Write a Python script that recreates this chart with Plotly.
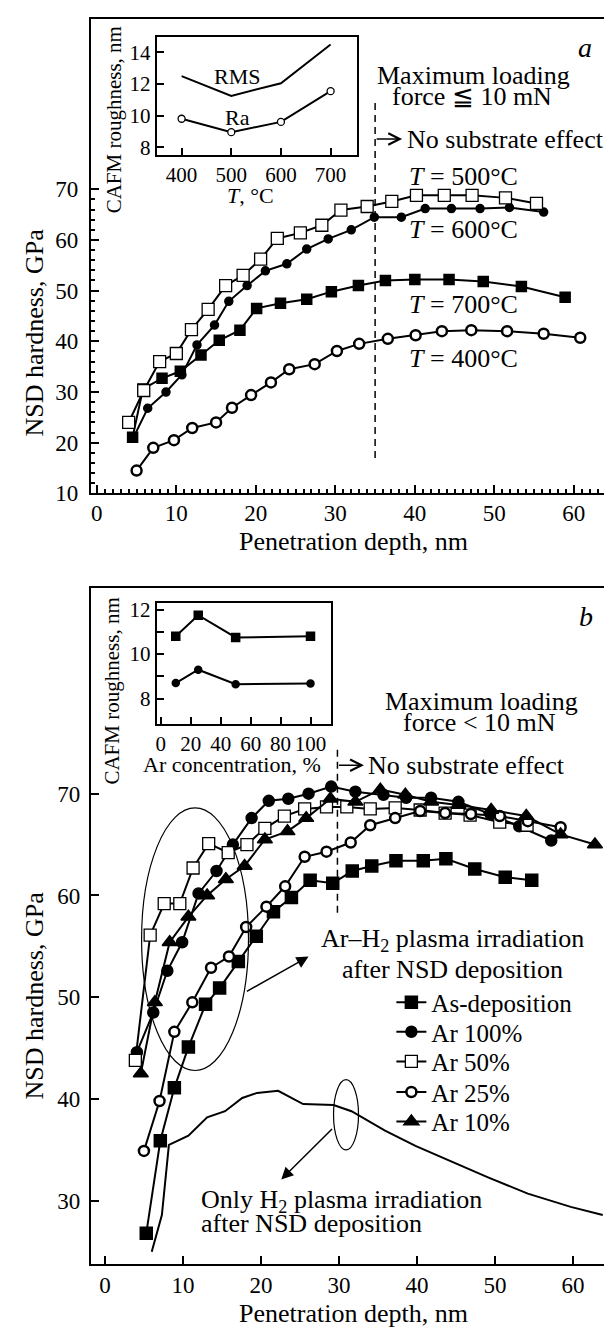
import plotly.graph_objects as go

# ---- panel a: NSD hardness vs penetration depth, by deposition temperature
x_500 = [4.0, 5.9, 7.9, 10.0, 11.9, 14.0, 16.2, 18.4, 20.6, 22.7, 25.6, 28.3, 30.7, 34.0, 37.1, 40.2, 43.7, 47.2, 51.4, 55.3]
y_500 = [24.0, 30.3, 36.0, 37.6, 42.3, 46.3, 51.0, 53.0, 56.2, 60.3, 61.4, 62.9, 65.9, 66.6, 67.6, 68.8, 68.8, 68.8, 68.3, 67.2]
x_600 = [4.6, 6.4, 8.7, 10.7, 12.6, 14.8, 16.6, 18.9, 21.2, 23.9, 26.4, 29.1, 32.0, 34.9, 38.3, 41.3, 44.6, 48.2, 51.9, 56.2]
y_600 = [21.0, 26.8, 30.0, 33.4, 39.3, 43.2, 47.9, 51.0, 53.9, 55.3, 58.2, 60.2, 62.0, 64.5, 64.5, 66.2, 66.2, 66.2, 66.4, 65.5]
x_700 = [4.5, 5.8, 8.2, 10.5, 13.1, 15.4, 18.0, 20.1, 23.1, 26.4, 29.5, 32.9, 36.3, 40.0, 44.3, 48.6, 53.4, 58.9]
y_700 = [21.1, 30.6, 32.7, 34.1, 37.3, 40.2, 42.2, 46.5, 47.5, 48.3, 49.8, 51.0, 52.0, 52.2, 52.2, 51.8, 50.8, 48.7]
x_400 = [5.0, 7.1, 9.7, 12.0, 15.0, 17.0, 19.4, 21.9, 24.2, 27.4, 30.2, 33.0, 36.6, 40.1, 43.4, 47.1, 51.6, 56.2, 60.8]
y_400 = [14.5, 19.0, 20.5, 22.9, 24.0, 26.9, 29.4, 31.9, 34.5, 35.5, 38.1, 39.5, 40.5, 41.2, 42.0, 42.2, 42.0, 41.5, 40.7]

# inset a: roughness vs temperature
t_inset = [400, 500, 600, 700]
rms_a = [12.5, 11.25, 12.05, 14.5]
ra_a = [9.8, 8.95, 9.6, 11.55]

# ---- panel b: hardness after plasma treatment
x_asdep = [5.3, 7.1, 8.9, 10.7, 12.9, 14.7, 17.1, 19.4, 21.6, 23.9, 26.3, 29.2, 31.7, 34.2, 37.3, 40.8, 43.7, 47.4, 51.3, 54.7]
y_asdep = [26.8, 35.9, 41.1, 45.1, 49.3, 50.9, 53.5, 56.0, 58.4, 59.8, 61.5, 61.2, 62.4, 62.9, 63.4, 63.4, 63.6, 62.6, 61.8, 61.5]
x_ar100 = [4.1, 6.2, 8.0, 9.9, 12.0, 14.3, 16.4, 18.8, 21.0, 23.5, 26.1, 29.0, 32.1, 35.7, 38.6, 41.8, 45.3, 49.4, 53.1, 57.2]
y_ar100 = [44.6, 48.5, 52.6, 55.4, 60.2, 62.4, 65.0, 67.6, 69.3, 69.5, 70.0, 70.7, 70.2, 69.9, 69.6, 69.6, 69.2, 68.0, 66.8, 65.4]
x_ar50 = [3.9, 5.8, 7.6, 9.6, 11.3, 13.3, 15.8, 18.2, 20.5, 23.0, 25.6, 28.4, 31.0, 34.0, 37.2, 40.4, 43.6, 46.8, 50.6, 54.1]
y_ar50 = [43.8, 56.1, 59.2, 59.2, 62.7, 65.1, 64.2, 65.0, 66.6, 67.8, 68.5, 68.7, 68.7, 68.5, 68.6, 68.4, 68.1, 67.9, 67.2, 66.9]
x_ar25 = [5.0, 7.0, 8.9, 11.2, 13.6, 15.9, 18.1, 20.7, 23.1, 25.6, 28.4, 31.5, 34.0, 37.2, 40.4, 43.6, 46.9, 50.6, 54.2, 58.4]
y_ar25 = [34.9, 39.8, 46.6, 49.5, 52.9, 54.0, 56.9, 58.9, 60.9, 63.8, 64.3, 65.2, 66.9, 67.6, 68.3, 68.1, 68.0, 67.8, 67.3, 66.7]
x_ar10 = [4.6, 6.4, 8.3, 10.7, 13.1, 15.5, 17.9, 20.5, 23.4, 25.8, 28.9, 32.1, 35.3, 38.5, 41.8, 45.3, 49.5, 54.0, 58.4, 62.8]
y_ar10 = [42.5, 49.5, 55.4, 57.9, 60.0, 61.6, 62.9, 65.5, 66.3, 67.6, 69.5, 69.2, 70.4, 69.9, 69.2, 68.9, 68.4, 67.8, 66.0, 65.0]
x_h2 = [6.0, 7.3, 8.2, 10.7, 13.1, 15.4, 17.6, 19.5, 22.2, 25.4, 29.3, 31.6, 35.9, 39.8, 44.0, 49.1, 54.2, 59.7, 63.8]
y_h2 = [25.0, 28.6, 35.5, 36.4, 38.2, 38.8, 40.1, 40.6, 40.8, 39.5, 39.4, 38.8, 36.9, 35.4, 34.0, 32.3, 30.7, 29.4, 28.6]

# inset b: roughness vs Ar concentration
ar_conc = [10, 25, 50, 100]
rough_sq = [10.8, 11.75, 10.75, 10.8]
rough_ci = [8.7, 9.3, 8.65, 8.68]

FONT = "Liberation Serif, Times New Roman, serif"
W, H = 612, 1332


def px_x(p):
    return p / W


def px_y(p):
    return 1 - p / H


fig = go.Figure()


def add(x, y, xa, ya, symbol, size, fill="black", lw=1.5, name=None, legend=None):
    fig.add_trace(go.Scatter(
        x=x, y=y, xaxis=xa, yaxis=ya, mode="lines+markers", name=name,
        showlegend=legend is not None, legend=legend or "legend",
        line=dict(color="black", width=2),
        marker=dict(symbol=symbol, size=size, color=fill, line=dict(color="black", width=lw)),
    ))


# panel a
add(x_400, y_400, "x", "y", "circle", 10, fill="white", lw=2.5)
add(x_700, y_700, "x", "y", "square", 10)
add(x_600, y_600, "x", "y", "circle", 8)
add(x_500, y_500, "x", "y", "square", 12, fill="white", lw=1.3)

# inset a
fig.add_trace(go.Scatter(x=t_inset, y=rms_a, xaxis="x3", yaxis="y3", mode="lines",
                         line=dict(color="black", width=2), showlegend=False))
add(t_inset, ra_a, "x3", "y3", "circle", 7, fill="white", lw=1.3)

# panel b
fig.add_trace(go.Scatter(x=x_h2, y=y_h2, xaxis="x2", yaxis="y2", mode="lines",
                         line=dict(color="black", width=2), showlegend=False))
add(x_asdep, y_asdep, "x2", "y2", "square", 12, name="As-deposition", legend="legend")
add(x_ar100, y_ar100, "x2", "y2", "circle", 11, name="Ar 100%", legend="legend2")
add(x_ar50, y_ar50, "x2", "y2", "square", 12, fill="white", lw=1.3, name="Ar 50%", legend="legend3")
add(x_ar25, y_ar25, "x2", "y2", "circle", 10, fill="white", lw=2.5, name="Ar 25%", legend="legend4")
add(x_ar10, y_ar10, "x2", "y2", "triangle-up", 13, name="Ar 10%", legend="legend5")

# inset b
add(ar_conc, rough_sq, "x4", "y4", "square", 8)
add(ar_conc, rough_ci, "x4", "y4", "circle", 7)

axis_common = dict(showline=True, linecolor="black", linewidth=2, mirror=True, ticks="inside",
                   tickcolor="black", tickwidth=1.5, showgrid=False, zeroline=False,
                   tickfont=dict(family=FONT, size=23, color="black"))
inset_font = dict(family=FONT, size=21, color="black")

fig.update_layout(
    width=W, height=H, margin=dict(l=0, r=0, t=0, b=0),
    paper_bgcolor="white", plot_bgcolor="white",
    font=dict(family=FONT, color="black"),
    xaxis=dict(axis_common, domain=[px_x(82), px_x(608)], range=[-0.75, 65.3], anchor="y",
               tickvals=[0, 10, 20, 30, 40, 50, 60], ticklen=8, ticklabelstandoff=-2,
               minor=dict(tickvals=list(range(0, 66)), ticklen=4, ticks="inside", tickcolor="black")),
    yaxis=dict(axis_common, domain=[px_y(487), px_y(6)], range=[10, 103.6], anchor="x",
               tickvals=[10, 20, 30, 40, 50, 60, 70], ticklen=8, ticklabelstandoff=6,
               minor=dict(tickvals=list(range(10, 71, 2)), ticklen=4, ticks="inside", tickcolor="black")),
    xaxis2=dict(axis_common, domain=[px_x(82), px_x(608)], range=[-1.8, 65.5], anchor="y2",
                tickvals=[0, 10, 20, 30, 40, 50, 60], ticklen=8),
    yaxis2=dict(axis_common, domain=[px_y(1268), px_y(583)], range=[23.8, 90.2], anchor="x2",
                tickvals=[30, 40, 50, 60, 70], ticklen=8, ticklabelstandoff=4),
    xaxis3=dict(axis_common, domain=[px_x(148), px_x(349)], range=[350, 754], anchor="y3",
                tickvals=t_inset, ticklen=7, tickfont=inset_font),
    yaxis3=dict(axis_common, domain=[px_y(144), px_y(24)], range=[7.5, 15], anchor="x3",
                tickvals=[8, 10, 12, 14], ticklen=7, tickfont=inset_font),
    xaxis4=dict(axis_common, domain=[px_x(148), px_x(323)], range=[-2.7, 114], anchor="y4",
                tickvals=[0, 20, 40, 60, 80, 100], ticklen=7, tickfont=inset_font),
    yaxis4=dict(axis_common, domain=[px_y(721), px_y(598)], range=[6.85, 12.3], anchor="x4",
                tickvals=[8, 10, 12], ticklen=7, tickfont=inset_font,
                minor=dict(tickvals=[9, 11], ticklen=7, ticks="inside", tickcolor="black")),
)

# one single-entry legend per series so the rows sit as tight as in the reference
legend_rows = {"legend": 1003, "legend2": 1033, "legend3": 1063, "legend4": 1094, "legend5": 1124}
for key, row in legend_rows.items():
    fig.update_layout({key: dict(x=px_x(383), y=px_y(row), xanchor="left", yanchor="middle",
                                 bgcolor="rgba(0,0,0,0)", borderwidth=0,
                                 font=dict(family=FONT, size=25, color="black"))})

# dashed "no substrate effect" limits and ellipses
fig.add_shape(type="line", xref="x", yref="y", x0=35, x1=35, y0=17, y1=87.7,
              line=dict(color="black", width=1.5, dash="7px,5px"))
fig.add_shape(type="line", xref="x2", yref="y2", x0=29.8, x1=29.8, y0=58.3, y1=74.4,
              line=dict(color="black", width=1.5, dash="7px,5px"))
fig.add_shape(type="circle", xref="x2", yref="y2", x0=4.7, x1=18.4, y0=42.8, y1=68.6,
              line=dict(color="black", width=1.2))
fig.add_shape(type="circle", xref="x2", yref="y2", x0=29.3, x1=32.5, y0=35.0, y1=41.9,
              line=dict(color="black", width=1.2))


def note(text, x, y, xref, yref, size=26, xanchor="center", angle=0):
    fig.add_annotation(text=text, x=x, y=y, xref=xref, yref=yref, showarrow=False,
                       xanchor=xanchor, yanchor="middle", textangle=angle,
                       font=dict(family=FONT, size=size, color="black"))


def arrow(hx, hy, tx, ty, xref, yref, head=2, size=1.6, width=1.5):
    fig.add_annotation(x=hx, y=hy, ax=tx, ay=ty, xref=xref, yref=yref, axref=xref, ayref=yref,
                       text="", showarrow=True, arrowhead=head, arrowsize=size, arrowwidth=width,
                       arrowcolor="black")


# panel a texts
note("Maximum loading", 47.4, 92.4, "x", "y")
note("force ≦ 10 mN", 47.2, 88.3, "x", "y")
note("No substrate effect", 38.7, 79.9, "x", "y", xanchor="left")
arrow(38.4, 79.9, 35.0, 79.9, "x", "y", head=5, size=1.4, width=1.6)
note("<i>T</i> = 500°C", 46.1, 72.5, "x", "y")
note("<i>T</i> = 600°C", 46.1, 62.0, "x", "y")
note("<i>T</i> = 700°C", 46.1, 47.3, "x", "y")
note("<i>T</i> = 400°C", 46.1, 36.6, "x", "y")
note("<i>a</i>", 61.4, 97.9, "x", "y", size=28)
note("RMS", 512, 12.45, "x3", "y3", size=22)
note("Ra", 512, 9.9, "x3", "y3", size=22)
note("CAFM roughness, nm", px_x(105), px_y(108), "paper", "paper", size=21, angle=-90)
note("<i>T</i>, °C", px_x(242), px_y(185), "paper", "paper", size=22)
note("NSD hardness, GPa", px_x(26), px_y(324), "paper", "paper", angle=-90)
note("Penetration depth, nm", px_x(345), px_y(536), "paper", "paper")

# panel b texts
note("Maximum loading", 48.2, 79.1, "x2", "y2")
note("force &lt; 10 mN", 48.0, 77.0, "x2", "y2")
note("No substrate effect", 33.5, 72.8, "x2", "y2", xanchor="left")
arrow(33.2, 72.8, 29.8, 72.8, "x2", "y2", head=5, size=1.4, width=1.6)
note("<i>b</i>", 61.6, 87.4, "x2", "y2", size=28)
note("Ar–H<sub>2</sub> plasma irradiation", 44.5, 55.6, "x2", "y2")
note("after NSD deposition", 44.5, 52.7, "x2", "y2")
note("Only H<sub>2</sub> plasma irradiation", 12.0, 30.0, "x2", "y2", xanchor="left")
note("after NSD deposition", 12.0, 27.8, "x2", "y2", xanchor="left")
note("CAFM roughness, nm", px_x(103), px_y(687), "paper", "paper", size=21, angle=-90)
note("Ar concentration, %", px_x(223), px_y(762), "paper", "paper", size=22)
note("NSD hardness, GPa", px_x(26), px_y(996), "paper", "paper", angle=-90)
note("Penetration depth, nm", px_x(345), px_y(1318), "paper", "paper")

# arrows from the ellipses to their captions
arrow(26.1, 54.0, 18.0, 50.5, "x2", "y2")
arrow(22.6, 32.1, 29.3, 37.2, "x2", "y2")

fig.write_html("out.html")
